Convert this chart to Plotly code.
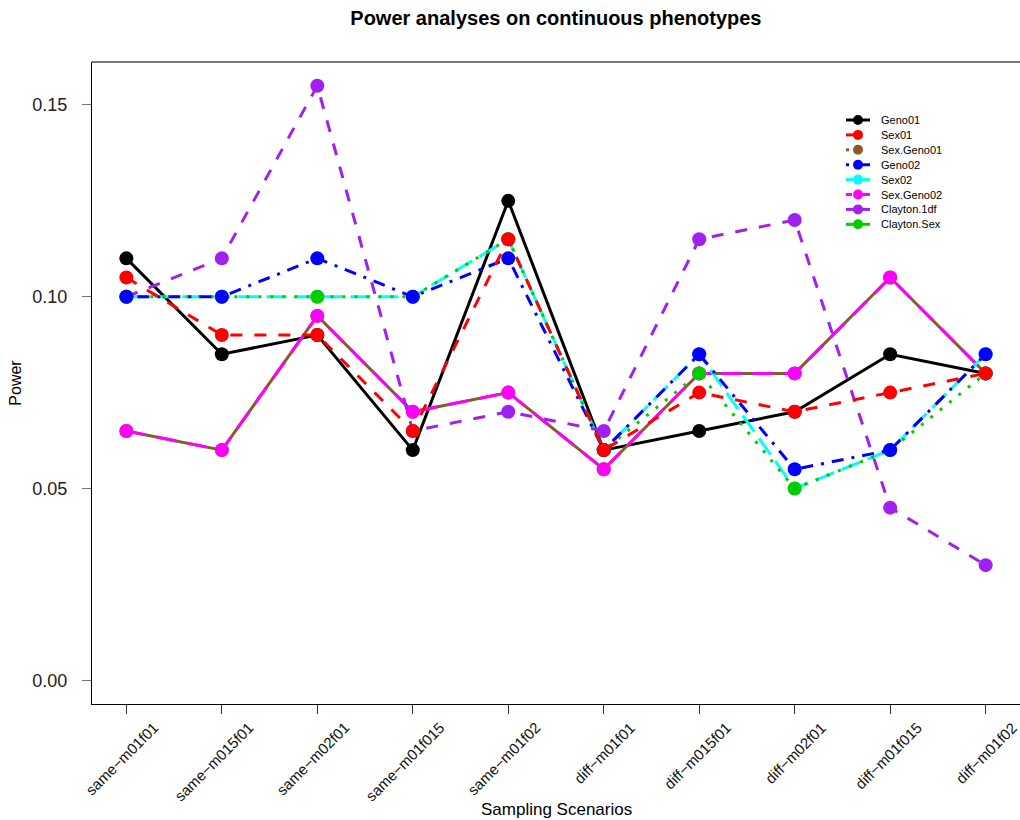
import plotly.graph_objects as go

scenarios = ["same\u2212m01f01", "same\u2212m015f01", "same\u2212m02f01", "same\u2212m01f015",
             "same\u2212m01f02", "diff\u2212m01f01", "diff\u2212m015f01", "diff\u2212m02f01",
             "diff\u2212m01f015", "diff\u2212m01f02"]

geno01 = [0.110, 0.085, 0.090, 0.060, 0.125, 0.060, 0.065, 0.070, 0.085, 0.080]
sex01 = [0.105, 0.090, 0.090, 0.065, 0.115, 0.060, 0.075, 0.070, 0.075, 0.080]
sex_geno01 = [0.065, 0.060, 0.095, 0.070, 0.075, 0.055, 0.080, 0.080, 0.105, 0.080]
geno02 = [0.100, 0.100, 0.110, 0.100, 0.110, 0.060, 0.085, 0.055, 0.060, 0.085]
sex02 = [0.100, 0.100, 0.100, 0.100, 0.115, 0.060, 0.085, 0.050, 0.060, 0.085]
sex_geno02 = [0.065, 0.060, 0.095, 0.070, 0.075, 0.055, 0.080, 0.080, 0.105, 0.080]
clayton_1df = [0.100, 0.110, 0.155, 0.065, 0.070, 0.065, 0.115, 0.120, 0.045, 0.030]
clayton_sex = [0.100, 0.100, 0.100, 0.100, 0.115, 0.060, 0.080, 0.050, 0.060, 0.080]

y_ticks = [0.00, 0.05, 0.10, 0.15]

# (name, values, colour, line dash, legend-sample dash)
series = {
    "Geno01": (geno01, "#000000", "solid", "solid"),
    "Sex01": (sex01, "#FF0000", "12px,12px", "12px,12px"),
    "Sex.Geno01": (sex_geno01, "#8B5A2B", "solid", "3px,30px"),
    "Geno02": (geno02, "#0000FF", "3px,8px,12px,8px", "3px,8px,20px,8px"),
    "Sex02": (sex02, "#00FFFF", "20px,8px", "solid"),
    "Sex.Geno02": (sex_geno02, "#FF00FF", "20px,11px", "6px,4px,30px"),
    "Clayton.1df": (clayton_1df, "#A020F0", "12px,12px", "solid"),
    "Clayton.Sex": (clayton_sex, "#00CD00", "3px,9px", "solid"),
}
legend_order = ["Geno01", "Sex01", "Sex.Geno01", "Geno02", "Sex02",
                "Sex.Geno02", "Clayton.1df", "Clayton.Sex"]
draw_order = ["Geno01", "Sex.Geno01", "Sex.Geno02", "Sex02", "Clayton.1df",
              "Clayton.Sex", "Geno02", "Sex01"]

fig = go.Figure()
for name in draw_order:
    vals, col, dash, _ = series[name]
    fig.add_trace(go.Scatter(
        x=scenarios, y=vals, name=name, mode="lines+markers",
        line=dict(color=col, width=3, dash=dash),
        marker=dict(color=col, size=14),
        showlegend=False,
    ))

# Plot-area geometry in pixels, used to place the hand-built legend
L, R, T, B = 92, 1020, 62, 704
def px(x):
    return (x - L) / (R - L)
def py(y):
    return (B - y) / (B - T)

shapes = [dict(type="line", xref="paper", yref="paper", x0=0, x1=1, y0=1, y1=1,
               line=dict(color="#777777", width=2))]
annotations = []
for i, name in enumerate(legend_order):
    _, col, _, ldash = series[name]
    yc = 120 + i * 14.9
    shapes.append(dict(type="line", xref="paper", yref="paper",
                       x0=px(846), x1=px(870), y0=py(yc), y1=py(yc),
                       line=dict(color=col, width=3, dash=ldash)))
    shapes.append(dict(type="circle", xref="paper", yref="paper",
                       x0=px(853), x1=px(863), y0=py(yc + 5), y1=py(yc - 5),
                       fillcolor=col, line=dict(color=col, width=0)))
    annotations.append(dict(xref="paper", yref="paper", x=px(879), y=py(yc),
                            xanchor="left", yanchor="middle", showarrow=False,
                            text=name, font=dict(size=11, color="black")))

# Slanted category labels, set to the lower right of each tick
for s in scenarios:
    annotations.append(dict(xref="x", yref="paper", x=s, y=0,
                            xanchor="right", yanchor="top", showarrow=False,
                            textangle=-45, xshift=38, yshift=-12,
                            text=s, font=dict(size=15, color="#111111")))
annotations.append(dict(xref="paper", yref="paper", x=px(556), y=py(810),
                        xanchor="center", yanchor="middle", showarrow=False,
                        text="Sampling Scenarios", font=dict(size=17, color="black")))

fig.update_layout(
    width=1020, height=820,
    margin=dict(l=L, r=1020 - R, t=T, b=820 - B),
    paper_bgcolor="white", plot_bgcolor="white",
    font=dict(family="Liberation Sans, Arial, sans-serif", color="black"),
    title=dict(text="<b>Power analyses on continuous phenotypes</b>",
               x=0.545, xanchor="center", y=0.978, yanchor="middle",
               font=dict(size=20)),
    showlegend=False,
    xaxis=dict(
        type="category", range=[-0.36, 9.36],
        showgrid=False, zeroline=False,
        showline=True, linecolor="black", linewidth=1,
        ticks="outside", ticklen=9, tickcolor="#333333",
        showticklabels=False,
    ),
    yaxis=dict(
        range=[-0.0062, 0.1612],
        tickvals=y_ticks, tickformat=".2f",
        showgrid=False, zeroline=False,
        showline=True, linecolor="black", linewidth=1,
        ticks="outside", ticklen=9, tickcolor="#777777",
        ticklabelstandoff=11,
        tickfont=dict(size=18, color="#222222"),
        title=dict(text="Power", font=dict(size=16), standoff=6),
    ),
    shapes=shapes,
    annotations=annotations,
)

fig.write_html("out.html")
